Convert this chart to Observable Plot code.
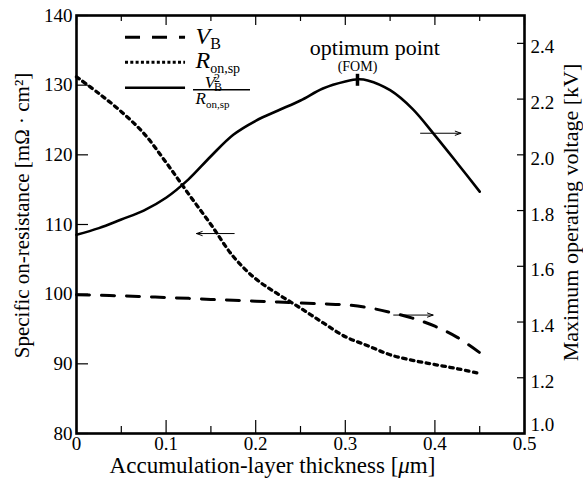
<!DOCTYPE html>
<html><head><meta charset="utf-8">
<script src="https://cdn.jsdelivr.net/npm/d3@7"></script>
<script src="https://cdn.jsdelivr.net/npm/@observablehq/plot@0.6"></script>
<style>body{margin:0;background:#fff} svg{display:block}</style>
</head><body><div id="chart"></div>
<script>
// ---- data ----
const thickness = [0,0.025,0.05,0.075,0.1,0.125,0.15,0.175,0.2,0.225,0.25,0.275,0.3,0.325,0.35,0.375,0.4,0.425,0.45];
const ronSp = [131.2,128.8,126.2,123.1,118.9,114.4,110.0,105.4,102.2,100.0,98.0,95.9,93.9,92.6,91.3,90.5,89.9,89.3,88.6]; // mΩ·cm² (left axis)
const vbKV = [1.498,1.496,1.494,1.491,1.488,1.485,1.481,1.478,1.475,1.472,1.468,1.465,1.462,1.452,1.435,1.414,1.385,1.345,1.29]; // kV (right axis)
const fomThickness = [0,0.025,0.05,0.075,0.1,0.125,0.15,0.175,0.2,0.225,0.25,0.275,0.3,0.315,0.325,0.35,0.375,0.4,0.425,0.45];
const fomKV = [1.713,1.737,1.768,1.80,1.846,1.912,1.995,2.072,2.122,2.159,2.195,2.238,2.263,2.271,2.267,2.232,2.165,2.07,1.97,1.868]; // drawn on right axis
const optimumX = 0.3136;
const xMajor = [0,0.1,0.2,0.3,0.4,0.5];
const xMinor = [0.05,0.15,0.25,0.35,0.45];
const leftTicks = [80,90,100,110,120,130,140];
const rightTicks = [1.0,1.2,1.4,1.6,1.8,2.0,2.2,2.4];
const xTitle = "Accumulation-layer thickness [μm]";
const yLeftTitle = "Specific on-resistance [mΩ · cm²]";
const yRightTitle = "Maximum operating voltage [kV]";

// right axis (kV 1.0–2.5) shares the frame with left axis (80–140)
const kvToLeft = kv => 80 + 40 * (kv - 1);
const leftToKv = v => 1 + (v - 80) / 40;

const W = 583, H = 478, mL = 76, mR = 59, mT = 15, mB = 45;
const pw = W - mL - mR, ph = H - mT - mB;

const ronRows = thickness.map((t, i) => ({t, v: ronSp[i]}));
const vbRows = thickness.map((t, i) => ({t, v: kvToLeft(vbKV[i])}));
const fomRows = fomThickness.map((t, i) => ({t, v: kvToLeft(fomKV[i])}));

// annotation / legend placement (data space)
const legendLines = [
  {x1: 0.0547, x2: 0.1217, y: 136.89},
  {x1: 0.0547, x2: 0.1217, y: 133.30},
  {x1: 0.0547, x2: 0.1217, y: 129.63}
];
const arrows = [
  {x1: 0.176, x2: 0.134, y: 108.7},
  {x1: 0.384, x2: 0.429, y: 123.1},
  {x1: 0.354, x2: 0.398, y: 97.0}
];

const serif = '"Liberation Serif","Times New Roman",serif';
const plot = Plot.plot({
  width: W, height: H,
  marginLeft: mL, marginRight: mR, marginTop: mT, marginBottom: mB,
  x: {domain: [0, 0.5]},
  y: {domain: [80, 140]},
  style: {fontFamily: serif, background: "white", color: "black"},
  marks: [
    // tick labels
    Plot.axisX(xMajor, {tickSize: 0, tickPadding: 3, fontSize: 19, label: null, tickFormat: d => d === 0 ? "0" : d.toFixed(1)}),
    Plot.axisY(leftTicks, {anchor: "left", tickSize: 0, tickPadding: 4, fontSize: 19, label: null}),
    Plot.axisY(rightTicks.filter(d => d > 1.05).map(kvToLeft), {anchor: "right", tickSize: 0, tickPadding: 6, fontSize: 19, dy: 4, label: null, tickFormat: d => leftToKv(d).toFixed(1)}),
    Plot.axisY(rightTicks.filter(d => d < 1.05).map(kvToLeft), {anchor: "right", tickSize: 0, tickPadding: 6, fontSize: 19, dy: -9, label: null, tickFormat: d => leftToKv(d).toFixed(1)}),
    // inward ticks
    Plot.tickX(xMajor, {x: d => d, insetTop: ph - 13, strokeWidth: 1.2}),
    Plot.tickX(xMinor, {x: d => d, insetTop: ph - 7, strokeWidth: 1.2}),
    Plot.tickX(xMajor, {x: d => d, insetBottom: ph - 10, strokeWidth: 1.2}),
    Plot.tickX(xMinor, {x: d => d, insetBottom: ph - 6, strokeWidth: 1.2}),
    Plot.tickY(leftTicks, {y: d => d, insetRight: pw - 12, strokeWidth: 1.2}),
    Plot.tickY(rightTicks.map(kvToLeft), {y: d => d, insetLeft: pw - 7, strokeWidth: 1.2}),
    // curves
    Plot.line(vbRows, {x: "t", y: "v", curve: "catmull-rom", stroke: "black", strokeWidth: 3, strokeDasharray: "13,12"}),
    Plot.line(ronRows, {x: "t", y: "v", curve: "catmull-rom", stroke: "black", strokeWidth: 3.3, strokeDasharray: "3.5,4.5"}),
    Plot.line(fomRows, {x: "t", y: "v", curve: "catmull-rom", stroke: "black", strokeWidth: 2.6}),
    Plot.ruleX([optimumX], {x: d => d, y1: kvToLeft(2.246), y2: kvToLeft(2.289), strokeWidth: 3.5}),
    // arrows
    Plot.arrow(arrows, {x1: "x1", y1: "y", x2: "x2", y2: "y", stroke: "black", strokeWidth: 1, headLength: 9, headAngle: 40}),
    // annotation
    Plot.text(["optimum point"], {text: d => d, x: () => 0.333, y: () => 134.26, textAnchor: "middle", lineAnchor: "bottom", fontSize: 22}),
    Plot.text(["(FOM)"], {text: d => d, x: () => optimumX, y: () => 131.97, textAnchor: "middle", lineAnchor: "bottom", fontSize: 14}),
    // legend
    Plot.ruleY([legendLines[0]], {y: "y", x1: "x1", x2: "x2", strokeWidth: 3, strokeDasharray: "15,12"}),
    Plot.ruleY([legendLines[1]], {y: "y", x1: "x1", x2: "x2", strokeWidth: 3, strokeDasharray: "3,2.3"}),
    Plot.ruleY([legendLines[2]], {y: "y", x1: "x1", x2: "x2", strokeWidth: 2.6}),
    Plot.text(["§VB"], {text: d => d, x: () => 0.1328, y: () => 135.98, textAnchor: "start", lineAnchor: "bottom"}),
    Plot.text(["§RON"], {text: d => d, x: () => 0.1328, y: () => 132.45, textAnchor: "start", lineAnchor: "bottom"}),
    Plot.ruleY([{y: 129.34, x1: 0.1306, x2: 0.1942}], {y: "y", x1: "x1", x2: "x2", strokeWidth: 1.3}),
    Plot.text(["§NUM"], {text: d => d, x: () => 0.143, y: () => 129.6, textAnchor: "start", lineAnchor: "bottom"}),
    Plot.text(["§DEN"], {text: d => d, x: () => 0.1328, y: () => 127.25, textAnchor: "start", lineAnchor: "bottom"}),
    // axis titles
    Plot.text([xTitle], {text: d => d, frameAnchor: "bottom", textAnchor: "middle", dx: -28, dy: 39, lineAnchor: "bottom", fontSize: 23}),
    Plot.text([yLeftTitle], {text: d => d, frameAnchor: "left", textAnchor: "middle", rotate: -90, dx: -48, dy: -9, lineAnchor: "bottom", fontSize: 21}),
    Plot.text([yRightTitle], {text: d => d, frameAnchor: "right", textAnchor: "middle", rotate: -90, dx: 53, dy: -12, lineAnchor: "bottom", fontSize: 22}),
    Plot.frame({stroke: "black", strokeWidth: 2.6})
  ]
});

const svg = d3.select(plot);
function rich(content, parts) {
  svg.selectAll("text").filter(function() { return this.textContent === content; }).each(function() {
    const t = d3.select(this);
    t.text(null);
    parts.forEach(p => {
      const s = t.append("tspan").text(p.text);
      if (p.italic) s.attr("font-style", "italic");
      if (p.size) s.attr("font-size", p.size);
      if (p.dy != null) s.attr("dy", p.dy);
      if (p.dx != null) s.attr("dx", p.dx);
    });
  });
}
rich("§VB", [{text: "V", italic: true, size: 24}, {text: "B", size: 16, dy: 5}]);
rich("§RON", [{text: "R", italic: true, size: 24}, {text: "on,sp", size: 14, dy: 5}]);
rich("§NUM", [{text: "V", italic: true, size: 17}, {text: "B", size: 12, dy: 3, dx: -1}, {text: "2", size: 12, dx: -8, dy: -9}]);
rich("§DEN", [{text: "R", italic: true, size: 17}, {text: "on,sp", size: 11, dy: 4}]);
rich(xTitle, [{text: "Accumulation-layer thickness ["}, {text: "μ", italic: true}, {text: "m]"}]);

document.getElementById("chart").append(plot);
</script>
</body></html>
